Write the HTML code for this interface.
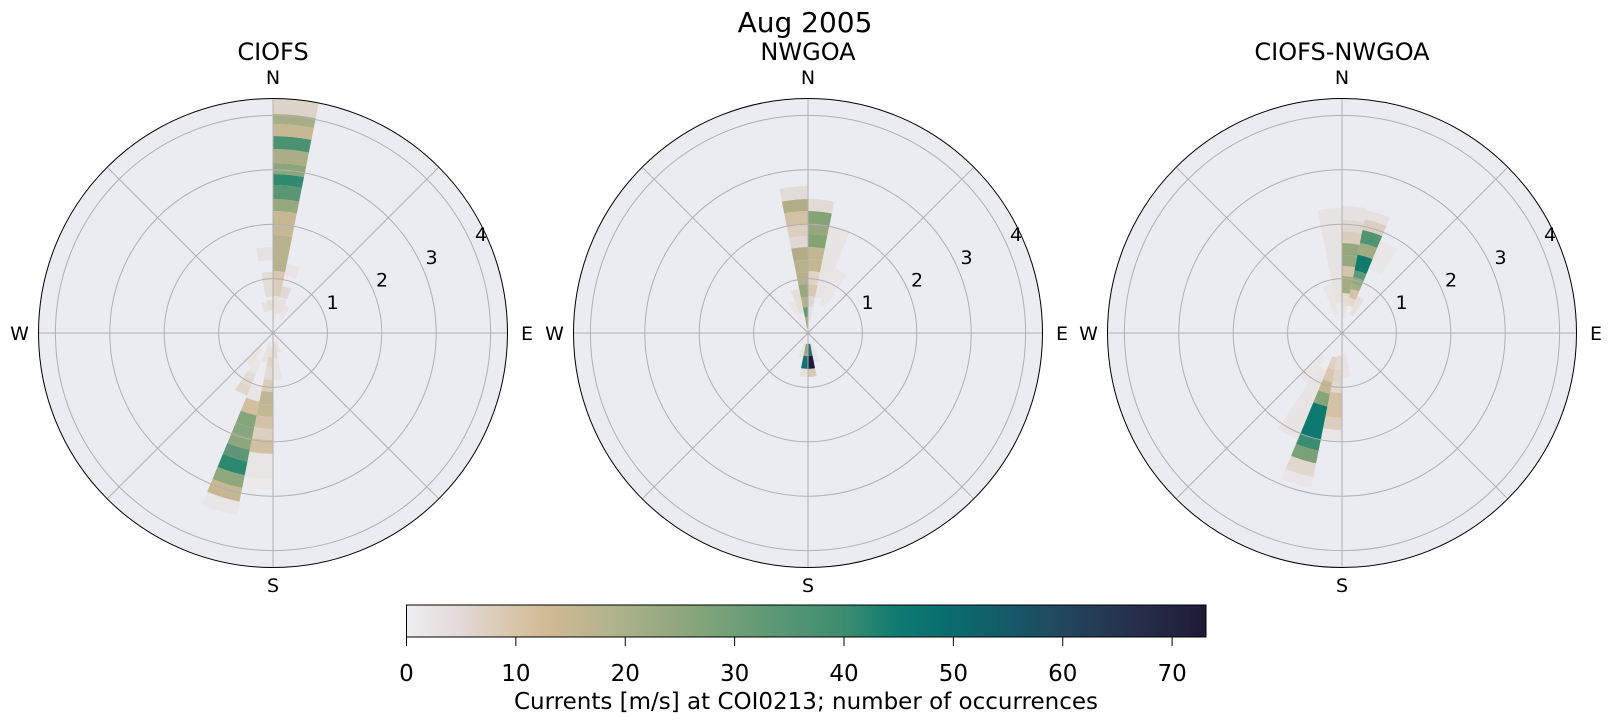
<!DOCTYPE html>
<html><head><meta charset="utf-8">
<style>
html,body{margin:0;padding:0;background:#fff;}
svg{display:block;font-family:"DejaVu Sans","Liberation Sans",sans-serif;}
</style></head>
<body>
<svg id="s" width="1611" height="724" viewBox="0 0 1611 724" xmlns="http://www.w3.org/2000/svg">
<defs>
<linearGradient id="cm" x1="0" x2="1" y1="0" y2="0">
<stop offset="0" stop-color="#efeef2"/>
<stop offset="0.068" stop-color="#e2dad6"/>
<stop offset="0.137" stop-color="#d8c4a8"/>
<stop offset="0.178" stop-color="#d0b993"/>
<stop offset="0.246" stop-color="#b5b58e"/>
<stop offset="0.342" stop-color="#8fa77c"/>
<stop offset="0.451" stop-color="#5e9a75"/>
<stop offset="0.547" stop-color="#3c8d6f"/>
<stop offset="0.616" stop-color="#0d7a70"/>
<stop offset="0.684" stop-color="#0a6b6e"/>
<stop offset="0.752" stop-color="#145a68"/>
<stop offset="0.821" stop-color="#22465e"/>
<stop offset="0.917" stop-color="#262e4a"/>
<stop offset="1" stop-color="#201a36"/>
</linearGradient>
</defs>
<g id="plots"></g>
<text x="805" y="32" font-size="28" text-anchor="middle">Aug 2005</text>
<rect x="406.5" y="605" width="799.5" height="32" fill="url(#cm)" stroke="#000" stroke-width="1"/>
<g id="cb" font-size="23" text-anchor="middle"></g>
<text x="806" y="709" font-size="23" text-anchor="middle">Currents [m/s] at COI0213; number of occurrences</text>
</svg>
<script>
const NS="http://www.w3.org/2000/svg";
const g=document.getElementById('plots');
function el(t,a,p){const e=document.createElementNS(NS,t);for(const k in a)e.setAttribute(k,a[k]);(p||g).appendChild(e);return e;}
const U=54.4,R=234.5,BW=11.25;
function wedge(cx,cy,a0,a1,r0,r1){
 const f=(a,r)=>{const t=a*Math.PI/180;return [(cx+r*Math.sin(t)).toFixed(2),(cy-r*Math.cos(t)).toFixed(2)];};
 const p1=f(a0,r1),p2=f(a1,r1),p3=f(a1,r0),p4=f(a0,r0);
 return `M${p4[0]},${p4[1]} L${p1[0]},${p1[1]} A${r1},${r1} 0 0 1 ${p2[0]},${p2[1]} L${p3[0]},${p3[1]} A${r0},${r0} 0 0 0 ${p4[0]},${p4[1]} Z`;
}
const plots=[
{cx:273,cy:333,t:"CIOFS",d:{
0:[[0,19,'#ebe8ea'],[19,37,'#e6e0dc'],[37,53,'#dccdbb'],[53,62,'#d8c8b2'],[62,98,'#b5b28c'],[98,109,'#c5b995'],[109,122,'#c7b893'],[122,134,'#98a87d'],[134,148,'#5a9574'],[148,159,'#2e8b6e'],[159,170,'#8ea57b'],[170,184,'#a9ae86'],[184,197,'#4b9271'],[197,209,'#c7b894'],[209,219,'#a9ad85'],[219,240,'#dcd3c9']],
31:[[23,33,'#e3ddd9'],[36,49,'#e3ddd8'],[49,61,'#e4dcd6'],[73,86,'#e6e2e3']],
1:[[20,35,'#e6e1df'],[36,48,'#e2dbd5'],[59,71,'#e8e4e4']],
2:[[15,30,'#e8e4e3']],
30:[[22,32,'#e6e2e1']],
16:[[14,24,'#e6ded8'],[24,34,'#dfd4c8'],[34,47,'#e2dbd4'],[47,59,'#dccdb8'],[59,72,'#bdb690'],[72,84,'#c4b893'],[84,96,'#d3c2a6'],[96,107,'#dcd0c0'],[107,121,'#d2c0a2'],[121,134,'#e8e5e6'],[134,146,'#e7e4e3'],[146,157,'#ebe9ea']],
17:[[10,30,'#e7e2df'],[55,70,'#e8e5e6'],[70,84,'#d2bea0'],[84,97,'#85a67b'],[97,107,'#87a67b'],[107,119,'#8ea67e'],[119,131,'#5e9677'],[131,145,'#2b8a6d'],[145,158,'#8fa77d'],[158,172,'#c6b792'],[172,186,'#e8e6e6']],
18:[[30,45,'#e8e6e5'],[45,58,'#e4dcd4'],[58,68,'#e0d6cc']],
19:[[20,40,'#e7e3e1']],
15:[[8,25,'#e3d9cf'],[25,47,'#e8e4e3']],
14:[[8,20,'#e6e0dc']]}},
{cx:808,cy:333,t:"NWGOA",d:{
31:[[5,16,'#a8ab80'],[16,26,'#5d9a76'],[26,36,'#b6b18b'],[36,49,'#98a87d'],[49,61,'#b3b08a'],[61,73,'#b6b28c'],[73,86,'#b1ae87'],[86,97,'#e0d9d3'],[97,109,'#ddcfc0'],[109,122,'#d2c1a4'],[122,134,'#b0ae86'],[134,147,'#e2dcd9']],
0:[[12,26,'#e6e2e1'],[26,37,'#e0d8d2'],[37,49,'#d9c9b2'],[49,62,'#e0d4c6'],[62,74,'#c4b893'],[74,86,'#c1b791'],[86,99,'#84a476'],[99,109,'#98a87e'],[109,122,'#84a476'],[122,134,'#e2dad5']],
1:[[37,110,'#e7e4e4']],2:[[30,70,'#e9e6e7']],30:[[20,45,'#e5dfdc']],29:[[15,35,'#e8e5e5']],
16:[[11,21,'#8fa77c'],[21,23,'#b5b28c'],[23,36,'#0e7470'],[36,44,'#e6e0dc']],
15:[[11,23,'#2d6d70'],[23,36,'#1f1b3a'],[36,44,'#d8c8b5']],
14:[[10,30,'#e8e4e3']],17:[[10,25,'#e7e3e2']]}},
{cx:1342,cy:333,t:"CIOFS-NWGOA",d:{
0:[[15,27,'#e8e4e3'],[27,40,'#e4dbd2'],[40,57,'#a4ac82'],[57,67,'#d5c4a8'],[67,78,'#98a87e'],[78,90,'#95a77c'],[90,102,'#dbcdbd'],[102,113,'#e0d7cf'],[113,127,'#e5e1e0']],
1:[[28,36,'#e3d9cf'],[36,45,'#d4c2a4'],[45,50,'#a6ad83'],[50,57,'#8fa87c'],[57,64,'#5d9878'],[64,80,'#0f7b6f'],[80,92,'#a0ab82'],[92,105,'#4f9572'],[105,116,'#dccfc0'],[116,125,'#e6e1df']],
2:[[20,40,'#e6e0dc'],[70,100,'#e9e6e7']],31:[[30,125,'#e7e3e3']],30:[[20,50,'#e8e5e5']],
16:[[23,37,'#e2d9d0'],[37,50,'#dfd4c8'],[50,60,'#e0d6cc'],[60,85,'#d4c2a4'],[85,97,'#dccebc'],[97,108,'#e8e5e5']],
17:[[25,37,'#e0d2c4'],[37,50,'#d8c7b0'],[50,62,'#c3b890'],[62,75,'#84a577'],[75,110,'#0d7a6f'],[110,120,'#3a8e6f'],[120,133,'#79a077'],[133,147,'#e0d7ce'],[147,158,'#e9e6e7']],
18:[[40,115,'#e8e4e3']],15:[[20,45,'#e8e4e3']],19:[[30,60,'#e9e6e7']]}}
];
plots.forEach((p,i)=>{
 const {cx,cy}=p;
 const cid='c'+i;
 const cp=el('clipPath',{id:cid});el('circle',{cx,cy,r:R},cp);
 el('circle',{cx,cy,r:R,fill:'#ebebf2'});
 const bg=el('g',{'clip-path':`url(#${cid})`});
 for(const k in p.d){const a0=k*BW,a1=a0+BW;
  p.d[k].forEach(b=>{el('path',{d:wedge(cx,cy,a0,a1,b[0],Math.min(b[1],R+2)),fill:b[2]},bg);});}
 for(let j=1;j<=4;j++)el('circle',{cx,cy,r:j*U,fill:'none',stroke:'#b0b0b0','stroke-width':1});
 for(let a=0;a<180;a+=45){const t=a*Math.PI/180;
  el('line',{x1:cx-R*Math.sin(t),y1:cy+R*Math.cos(t),x2:cx+R*Math.sin(t),y2:cy-R*Math.cos(t),stroke:'#b0b0b0','stroke-width':1});}
 el('circle',{cx,cy,r:R,fill:'none',stroke:'#000','stroke-width':1});
 const tx=(x,y,s,fs,anc)=>{const e=el('text',{x,y,'font-size':fs,'text-anchor':anc||'middle'});e.textContent=s;};
 tx(cx,60,p.t,24);
 tx(cx,84,'N',19);tx(cx,592,'S',19);
 tx(cx-253.5,340,'W',19);tx(cx+254,340,'E',19);
 const ang=24.5*Math.PI/180;
 [1,2,3,4].forEach(j=>{const r=j*U+11;tx(cx+r*Math.cos(ang),cy-r*Math.sin(ang)+3,String(j),19);});
});
const cb=document.getElementById('cb');
for(let v=0;v<=70;v+=10){const x=406.5+v*799.5/73.1;
 el('line',{x1:x,y1:637,x2:x,y2:646,stroke:'#000','stroke-width':1},cb);
 const t=el('text',{x:x,y:681},cb);t.textContent=String(v);}
</script>
</body></html>
